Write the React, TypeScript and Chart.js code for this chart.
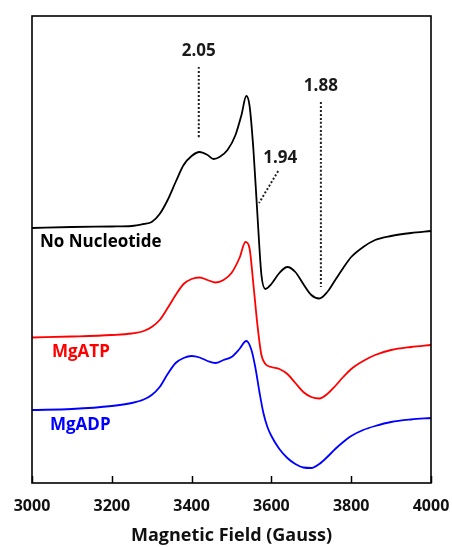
import React, { useEffect, useRef } from "react";
import { Chart, registerables } from "chart.js";

Chart.register(...registerables);

// ---- Data (Magnetic field in Gauss, signal in arbitrary units) ----
const fieldBlack = [3000, 3100, 3200, 3250, 3280, 3300, 3320, 3340, 3360, 3380, 3400, 3420, 3440, 3455, 3470, 3490, 3510, 3525, 3537, 3545, 3555, 3565, 3575, 3585, 3600, 3620, 3640, 3660, 3680, 3700, 3720, 3740, 3760, 3780, 3800, 3830, 3860, 3900, 3950, 4000];
const noNucleotide = [255, 256, 256.5, 257, 259, 261, 269, 283, 301, 318, 327, 331, 328, 324, 326, 333, 348, 368, 387, 378, 333, 268, 208, 194, 199, 210, 216, 211, 199, 188, 184.5, 191, 203, 215, 226, 236, 243, 247, 250, 252];

const fieldRed = [3000, 3100, 3200, 3250, 3280, 3300, 3320, 3340, 3360, 3380, 3400, 3420, 3440, 3460, 3480, 3500, 3520, 3535, 3545, 3555, 3565, 3575, 3585, 3600, 3620, 3640, 3660, 3680, 3700, 3720, 3740, 3760, 3780, 3800, 3830, 3860, 3900, 3950, 4000];
const mgATP = [145.5, 146.5, 148, 149.5, 152, 156, 163, 175, 188, 199, 204, 205.5, 203, 200.5, 203, 210, 225, 241, 235, 198, 158, 128, 119, 116, 114, 109, 100, 91, 86, 84.5, 89, 97, 106, 114, 122, 128, 133, 136, 138];

const fieldBlue = [3000, 3100, 3200, 3250, 3280, 3300, 3320, 3340, 3360, 3380, 3400, 3420, 3440, 3460, 3480, 3500, 3520, 3537, 3550, 3560, 3570, 3580, 3590, 3600, 3620, 3640, 3660, 3680, 3700, 3720, 3740, 3760, 3780, 3800, 3830, 3860, 3900, 3950, 4000];
const mgADP = [73, 74, 77, 80, 83.5, 88, 96, 109, 120, 125, 127, 125.5, 122, 120, 123, 126, 134, 142, 133, 115, 91, 70, 56, 47, 34, 25, 19, 15.5, 15, 19, 26, 34, 41, 47, 53, 57, 61, 63.5, 65];

const xTicks = [3000, 3200, 3400, 3600, 3800, 4000];
const xTitle = "Magnetic Field (Gauss)";

const seriesNames = ["No Nucleotide", "MgATP", "MgADP"];
const seriesColors = ["#000000", "#ff0000", "#0000ff"];
const seriesLabelField = [3020, 3050, 3045];
const seriesLabelLevel = [241, 131, 58];

// g-value markers
const gLabels = ["2.05", "1.94", "1.88"];
const gLabelField = [3418, 3622, 3724];
const gLabelLevel = [432, 325, 397];
const gLineFieldStart = [3418, 3617, 3724];
const gLineFieldEnd = [3418, 3569, 3724];
const gLineLevelStart = [416, 312, 381];
const gLineLevelEnd = [344, 280, 196];

const FONT = "'Open Sans', 'DejaVu Sans', sans-serif";

const toPoints = (xs: number[], ys: number[]) => xs.map((x, i) => ({ x, y: ys[i] }));

const overlayPlugin = {
  id: "overlay",
  afterDatasetsDraw(chart: any) {
    const { ctx, chartArea, scales } = chart;
    const xs = scales.x;
    const ys = scales.y;
    ctx.save();
    // frame
    ctx.strokeStyle = "#000";
    ctx.lineWidth = 1.6;
    ctx.strokeRect(chartArea.left, chartArea.top, chartArea.right - chartArea.left, chartArea.bottom - chartArea.top);
    // inward ticks
    ctx.lineWidth = 1.5;
    xTicks.forEach((t) => {
      const px = Math.round(xs.getPixelForValue(t)) + 0.5;
      ctx.beginPath();
      ctx.moveTo(px, chartArea.bottom);
      ctx.lineTo(px, chartArea.bottom - 7);
      ctx.stroke();
    });
    // g labels
    ctx.fillStyle = "#1a1a1a";
    ctx.font = `bold 17px ${FONT}`;
    ctx.textAlign = "center";
    ctx.textBaseline = "middle";
    gLabels.forEach((g, i) => {
      ctx.fillText(g, xs.getPixelForValue(gLabelField[i]), ys.getPixelForValue(gLabelLevel[i]));
    });
    // series labels
    ctx.textAlign = "left";
    seriesNames.forEach((n, i) => {
      ctx.fillStyle = seriesColors[i];
      ctx.fillText(n, xs.getPixelForValue(seriesLabelField[i]), ys.getPixelForValue(seriesLabelLevel[i]));
    });
    ctx.restore();
  },
};

export default function App() {
  const ref = useRef<HTMLCanvasElement | null>(null);
  useEffect(() => {
    document.body.style.margin = "0";
    if (!ref.current) return;
    const markerSets = gLabels.map((g, i) => ({
      label: "g=" + g,
      data: [
        { x: gLineFieldStart[i], y: gLineLevelStart[i] },
        { x: gLineFieldEnd[i], y: gLineLevelEnd[i] },
      ],
      borderColor: "#222",
      borderWidth: 2,
      borderDash: [2, 2],
      pointRadius: 0,
      tension: 0,
    }));
    const chart = new Chart(ref.current, {
      type: "line",
      data: {
        datasets: [
          { label: seriesNames[0], data: toPoints(fieldBlack, noNucleotide), borderColor: seriesColors[0] },
          { label: seriesNames[1], data: toPoints(fieldRed, mgATP), borderColor: seriesColors[1] },
          { label: seriesNames[2], data: toPoints(fieldBlue, mgADP), borderColor: seriesColors[2] },
          ...markerSets,
        ].map((d: any) => ({
          borderWidth: 1.8,
          pointRadius: 0,
          cubicInterpolationMode: "monotone",
          fill: false,
          ...d,
        })),
      },
      options: {
        animation: false,
        responsive: false,
        maintainAspectRatio: false,
        layout: { padding: { left: 32, right: 21, top: 16, bottom: 0 } },
        plugins: { legend: { display: false }, tooltip: { enabled: false } },
        scales: {
          x: {
            type: "linear",
            min: 3000,
            max: 4000,
            grid: { display: false },
            border: { display: false },
            afterBuildTicks: (scale: any) => {
              scale.ticks = xTicks.map((v) => ({ value: v }));
            },
            afterFit: (scale: any) => {
              scale.height = 64;
              scale.paddingLeft = 0;
              scale.paddingRight = 0;
            },
            ticks: {
              autoSkip: false,
              maxRotation: 0,
              padding: 6,
              color: "#111",
              font: { family: FONT, size: 16, weight: "bold" },
              callback: (v: any) => String(v),
            },
            title: {
              display: true,
              text: xTitle,
              color: "#111",
              padding: { top: 0, bottom: 0 },
              font: { family: FONT, size: 18, weight: "bold" },
            },
          },
          y: { display: false, min: 0, max: 467 },
        },
      },
      plugins: [overlayPlugin],
    });
    return () => chart.destroy();
  }, []);
  return (
    <div style={{ width: 452, height: 547 }}>
      <canvas ref={ref} width={452} height={547} style={{ display: "block" }} />
    </div>
  );
}
